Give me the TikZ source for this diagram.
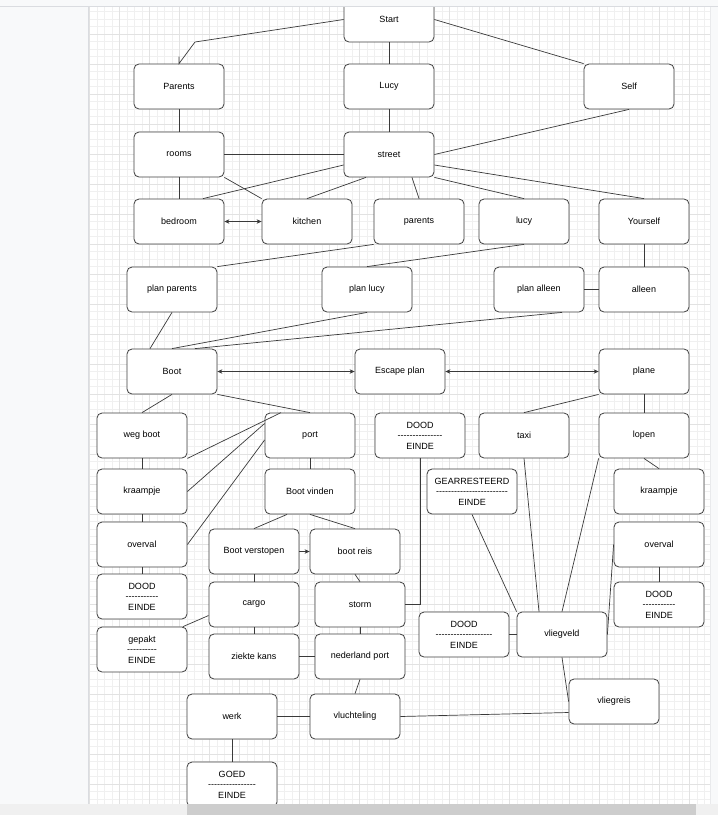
\documentclass[tikz,border=0pt]{standalone}
\usepackage{fontspec}
\setmainfont{Liberation Sans}[Ligatures=TeXOff]
\usepackage{tikz}
\usetikzlibrary{arrows.meta, positioning}

\definecolor{panel}{HTML}{F8F9FA}
\definecolor{panelline}{HTML}{DADCE0}
\definecolor{gridminor}{HTML}{F0F0F0}
\definecolor{gridmajor}{HTML}{E2E2E2}
\definecolor{scrollbar}{HTML}{CDCDCD}
\definecolor{boxline}{HTML}{404040}

\begin{document}
\begin{tikzpicture}[x=1pt, y=-1pt,
    box/.style={draw=boxline, line width=0.8pt, rounded corners=5pt, fill=white,
      minimum width=90pt, minimum height=45pt, inner sep=0pt, align=center,
      font=\fontsize{9}{10.5}\selectfont},
    link/.style={draw=boxline!90!black, line width=0.7pt},
    tip/.style={-{Stealth[length=5pt,width=4.5pt]}},
    tips/.style={{Stealth[length=5pt,width=4.5pt]}-{Stealth[length=5pt,width=4.5pt]}}]
    \useasboundingbox (0,0) rectangle (718,815);
    \fill[white] (0,0) rectangle (718,815);

    % Grid of the canvas
    \foreach \gx in {0,...,82} \draw[gridminor, line width=0.5pt] ({89.7+7.5*\gx},6) -- ({89.7+7.5*\gx},804);
    \foreach \gy in {0,...,106} \draw[gridminor, line width=0.5pt] (89,{4+7.5*\gy}) -- (710,{4+7.5*\gy});
    \foreach \gx in {0,...,20} \draw[gridmajor, line width=0.6pt] ({89.7+30*\gx},6) -- ({89.7+30*\gx},804);
    \foreach \gy in {1,...,26} \draw[gridmajor, line width=0.6pt] (89,{4+30*\gy}) -- (710,{4+30*\gy});

    % Left panel and right strip
    \fill[panel] (0,6) rectangle (88,804);
    \draw[panelline, line width=0.8pt] (88,6) -- (88,804);
    \fill[panel] (710,6) rectangle (718,804);
    \draw[panelline!60, line width=0.6pt] (710,6) -- (710,804);

    % Top: the start and the three ways
    \node[box] (start) at (389,19.5) {Start};
    \node[box] (parents) at (179,86.5) {Parents};
    \node[box] (lucy) at (389,86.5) {Lucy};
    \node[box] (self) at (629,86.5) {Self};
    \node[box] (rooms) at (179,154.5) {rooms};
    \node[box] (street) at (389,154.5) {street};

    % Places
    \node[box] (bedroom) at (179,221.5) {bedroom};
    \node[box] (kitchen) at (307,221.5) {kitchen};
    \node[box] (parents_st) at (419,221.5) {parents};
    \node[box] (lucy_st) at (524,221.5) {lucy};
    \node[box] (yourself) at (644,221.5) {Yourself};

    % Plans
    \node[box] (planparents) at (172,289.5) {plan parents};
    \node[box] (planlucy) at (367,289.5) {plan lucy};
    \node[box] (planalleen) at (539,289.5) {plan alleen};
    \node[box] (alleen) at (644,289.5) {alleen};

    % Escape
    \node[box] (boot) at (172,371.5) {Boot};
    \node[box] (escape) at (400,371.5) {Escape plan};
    \node[box] (plane) at (644,371.5) {plane};

    % Boot branch
    \node[box] (wegboot) at (142,435.5) {weg boot};
    \node[box] (kraampje_l) at (142,491.5) {kraampje};
    \node[box] (overval_l) at (142,544.5) {overval};
    \node[box] (dood_l) at (142,596.5) {DOOD\\-----------\\EINDE};
    \node[box] (gepakt) at (142,649.5) {gepakt\\----------\\EINDE};
    \node[box] (port) at (310,435.5) {port};
    \node[box] (bootvinden) at (310,491.5) {Boot vinden};
    \node[box] (verstopen) at (254,551.5) {Boot verstopen};
    \node[box] (bootreis) at (355,551.5) {boot reis};
    \node[box] (cargo) at (254,604.5) {cargo};
    \node[box] (storm) at (360,604.5) {storm};
    \node[box] (ziekte) at (254,656.5) {ziekte kans};
    \node[box] (nlport) at (360,656.5) {nederland port};
    \node[box] (werk) at (232,716.5) {werk};
    \node[box] (vlucht) at (355,716.5) {vluchteling};
    \node[box] (goed) at (232,784.5) {GOED\\----------------\\EINDE};
    \node[box] (dood_top) at (420,435.5) {DOOD\\---------------\\EINDE};

    % Plane branch
    \node[box] (taxi) at (524,435.5) {taxi};
    \node[box] (lopen) at (644,435.5) {lopen};
    \node[box] (gearr) at (472,491.5) {GEARRESTEERD\\------------------------\\EINDE};
    \node[box] (kraampje_r) at (659,491.5) {kraampje};
    \node[box] (overval_r) at (659,544.5) {overval};
    \node[box] (dood_r) at (659,604.5) {DOOD\\-----------\\EINDE};
    \node[box] (dood_m) at (464,634.5) {DOOD\\-------------------\\EINDE};
    \node[box] (vliegveld) at (562,634.5) {vliegveld};
    \node[box] (vliegreis) at (614,701.5) {vliegreis};

    % Links from the start
    \coordinate (bend) at (195,42);
    \draw[link] (start.west) -- (bend) -- (parents.north) -- ++(0,-7);
    \draw[link] (start.south) -- (lucy.north);
    \draw[link] (start.east) -- (self.north west);
    \draw[link] (parents.south) -- (rooms.north);
    \draw[link] (lucy.south) -- (street.north);
    \draw[link] (rooms.east) -- (street.west);
    \draw[link] (self.south) -- (street.east);

    % Links to the places
    \draw[link] (rooms.south) -- (bedroom.north);
    \draw[link] (rooms.south east) -- (kitchen.north west);
    \draw[link] ([yshift=-10.5pt]street.west) -- ([xshift=24pt]bedroom.north);
    \draw[link] ([xshift=-23pt]street.south) -- (kitchen.north);
    \draw[link, tips] (bedroom.east) -- (kitchen.west);
    \draw[link] ([xshift=23pt]street.south) -- (parents_st.north);
    \draw[link] (street.south east) -- (lucy_st.north);
    \draw[link] ([yshift=-10.5pt]street.east) -- (yourself.north);

    % Links to the plans
    \draw[link] (parents_st.south west) -- (planparents.north east);
    \draw[link] (lucy_st.south) -- (planlucy.north);
    \draw[link] (yourself.south) -- (alleen.north);
    \draw[link] (planalleen.east) -- (alleen.west);
    \draw[link] (planparents.south) -- ([xshift=-22pt]boot.north);
    \draw[link] (planlucy.south) -- (boot.north);
    \draw[link] ([xshift=23pt]planalleen.south) -- ([xshift=23pt]boot.north);
    \draw[link, tips] (boot.east) -- (escape.west);
    \draw[link, tips] (escape.east) -- (plane.west);

    % Boot branch links
    \draw[link] (boot.south) -- (wegboot.north);
    \draw[link] (boot.south east) -- (port.north);
    \draw[link] (wegboot.south east) -- ([xshift=-29pt]port.north);
    \draw[link] (kraampje_l.east) -- ([yshift=12pt]port.west);
    \draw[link] (overval_l.east) -- ([yshift=-4.5pt]port.west);
    \draw[link] (wegboot.south) -- (kraampje_l.north);
    \draw[link] (kraampje_l.south) -- (overval_l.north);
    \draw[link] (overval_l.south) -- (dood_l.north);
    \draw[link] (port.south) -- (bootvinden.north);
    \draw[link] ([xshift=-23pt]bootvinden.south) -- (verstopen.north);
    \draw[link] (bootvinden.south) -- (bootreis.north);
    \draw[link, tip] (verstopen.east) -- (bootreis.west);
    \draw[link] (verstopen.south) -- (cargo.north);
    \draw[link] (bootreis.south) -- (storm.north);
    \draw[link] ([yshift=-11pt]cargo.west) -- ([xshift=41pt]gepakt.north);
    \draw[link] (cargo.south) -- (ziekte.north);
    \draw[link] (storm.south) -- (nlport.north);
    \draw[link] (ziekte.east) -- (nlport.west);
    \draw[link] (storm.east) -| (dood_top.south);
    \draw[link] (nlport.south) -- (vlucht.north);
    \draw[link] (werk.east) -- (vlucht.west);
    \draw[link] (werk.south) -- (goed.north);
    \draw[link] (vlucht.east) -- ([yshift=-11pt]vliegreis.west);

    % Plane branch links
    \draw[link] (plane.south west) -- (taxi.north);
    \draw[link] (plane.south) -- (lopen.north);
    \draw[link] (lopen.south) -- (kraampje_r.north);
    \draw[link] (overval_r.south) -- (dood_r.north);
    \draw[link] (gearr.south) -- (vliegveld.north west);
    \draw[link] (taxi.south) -- ([xshift=-23pt]vliegveld.north);
    \draw[link] (lopen.south west) -- (vliegveld.north);
    \draw[link] (overval_r.west) -- (vliegveld.east);
    \draw[link] (dood_m.east) -- (vliegveld.west);
    \draw[link] (vliegveld.south) -- (vliegreis.west);

    % Header and scroll bar on top
    \fill[panel] (0,0) rectangle (718,6);
    \draw[panelline, line width=0.8pt] (0,6) -- (718,6);
    \fill[gridminor] (0,804) rectangle (718,815);
    \fill[scrollbar] (187,804) rectangle (696,815);
  \end{tikzpicture}
\end{document}
